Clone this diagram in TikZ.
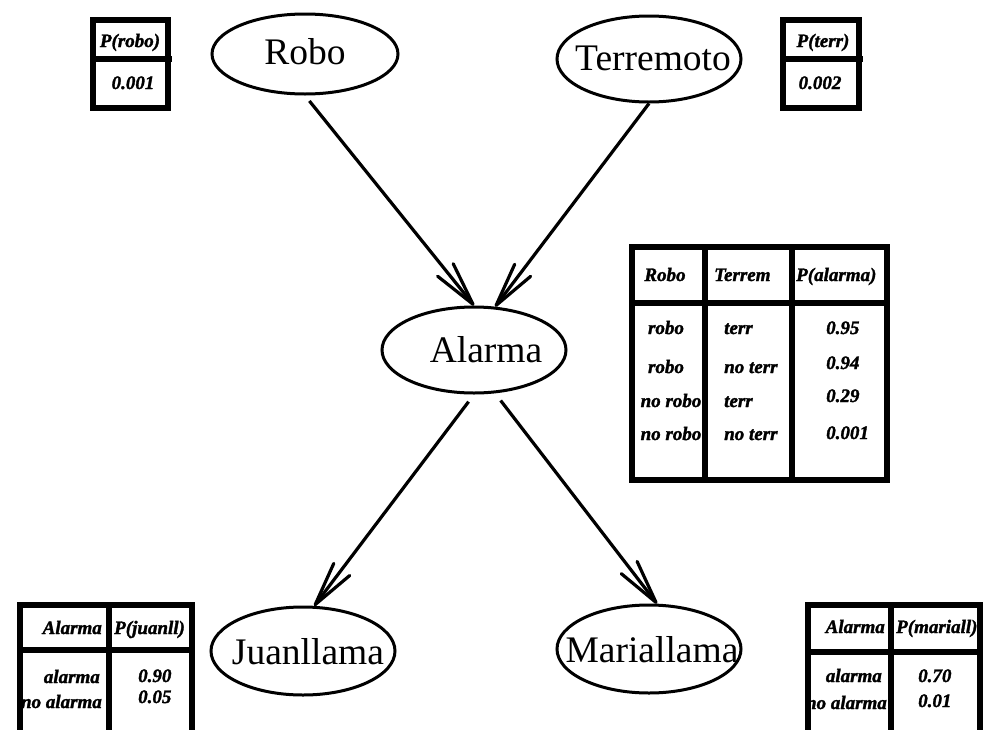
\documentclass[tikz,border=0pt]{standalone}
\usepackage{fontspec}
\setmainfont{Liberation Serif}
\newfontfamily\tablefont{Liberation Serif Bold Italic}[FakeBold=1.6]
\usetikzlibrary{shapes.geometric,arrows.meta}

\begin{document}
\begin{tikzpicture}[x=1pt,y=-1pt,
  ell/.style={draw, ellipse, line width=3pt, minimum width=184pt, minimum height=86pt, inner sep=0pt},
  lbl/.style={font=\fontsize{37.5}{37.5}\selectfont, inner sep=0pt},
  cell/.style={font=\tablefont\fontsize{19}{19}\selectfont\bfseries, inner sep=0pt},
  cellc/.style={cell, anchor=base},
  celll/.style={cell, anchor=base west},
  cellr/.style={cell, anchor=base east},
  edge/.style={line width=3.2pt, -{Straight Barb[length=44pt,width=20pt,line width=3.2pt,round]}},
  frame/.style={line width=5.5pt}
]
\useasboundingbox (0,0) rectangle (986,729);

% variables of the network
\node[ell, minimum width=186pt, minimum height=80pt] (robo) at (305,54) {};
\node[ell] (terr) at (649,59) {};
\node[ell] (alarma) at (474,350) {};
\node[ell, minimum height=88pt] (juan) at (303,651) {};
\node[ell, minimum height=88pt] (maria) at (649,649) {};

\node[lbl] (robo-t) at (305,52) {Robo};
\node[lbl] (terr-t) at (653,58) {Terremoto};
\node[lbl] (alarma-t) at (486,350) {Alarma};
\node[lbl] (juan-t) at (308,652) {Juanllama};
\node[lbl] (maria-t) at (652,650) {Mariallama};

% dependencies
\draw[edge, shorten <=7pt] (robo.south) -- (alarma.north);
\draw[edge] (terr.south) -- (alarma.64);
\draw[edge, shorten <=9pt] (alarma.south) -- (juan.76);
\draw[edge, shorten <=9pt] (alarma.-64) -- (maria.80);

% P(robo)
\node[cellc] (pr-h) at (130,47) {P(robo)};
\node[cellc] (pr-v) at (133,89) {0.001};
\draw[frame] (93,20) rectangle (168,108);
\draw[frame] (93,59) -- (172,59);

% P(terr)
\node[cellc] (pt-h) at (823,47) {P(terr)};
\node[cellc] (pt-v) at (820,89) {0.002};
\draw[frame] (783,20) rectangle (859,108);
\draw[frame] (783,59) -- (863,59);

% P(alarma | robo, terr)
\node[cellc] (pa-h1) at (665,281) {Robo};
\node[celll] (pa-h2) at (714,281) {Terrem};
\node[celll] (pa-h3) at (796,281) {P(alarma)};
\node[cellc] (pa-r1) at (666,334) {robo};
\node[cellc] (pa-r2) at (666,373) {robo};
\node[cellc] (pa-r3) at (671,407) {no robo};
\node[cellc] (pa-r4) at (671,440) {no robo};
\node[celll] (pa-t1) at (724,334) {terr};
\node[celll] (pa-t2) at (724,373) {no terr};
\node[celll] (pa-t3) at (724,407) {terr};
\node[celll] (pa-t4) at (724,440) {no terr};
\node[celll] (pa-p1) at (826,334) {0.95};
\node[celll] (pa-p2) at (826,369) {0.94};
\node[celll] (pa-p3) at (826,402) {0.29};
\node[celll] (pa-p4) at (826,439) {0.001};
\draw[frame] (632,247) rectangle (887,480);
\draw[frame] (705,247) -- (705,480);
\draw[frame] (792,247) -- (792,480);
\draw[frame] (632,303) -- (887,303);

% P(juanll | alarma)
\node[cellr] (pj-h1) at (102,634) {Alarma};
\node[celll] (pj-h2) at (114,634) {P(juanll)};
\node[cellr] (pj-a1) at (100,683) {alarma};
\node[cellr] (pj-a2) at (102,708) {no alarma};
\node[celll] (pj-p1) at (138,682) {0.90};
\node[celll] (pj-p2) at (138,703) {0.05};
\draw[frame] (20,740) -- (20,605) -- (192,605) -- (192,740);
\draw[frame] (109,605) -- (109,740);
\draw[frame] (20,650) -- (195,650);

% P(mariall | alarma)
\node[cellr] (pm-h1) at (885,633) {Alarma};
\node[celll] (pm-h2) at (896,633) {P(mariall)};
\node[cellr] (pm-a1) at (882,682) {alarma};
\node[cellr] (pm-a2) at (887,709) {no alarma};
\node[celll] (pm-p1) at (918,682) {0.70};
\node[celll] (pm-p2) at (918,707) {0.01};
\draw[frame] (808,740) -- (808,605) -- (980,605) -- (980,740);
\draw[frame] (891,605) -- (891,740);
\draw[frame] (808,652) -- (980,652);
\end{tikzpicture}
\end{document}
